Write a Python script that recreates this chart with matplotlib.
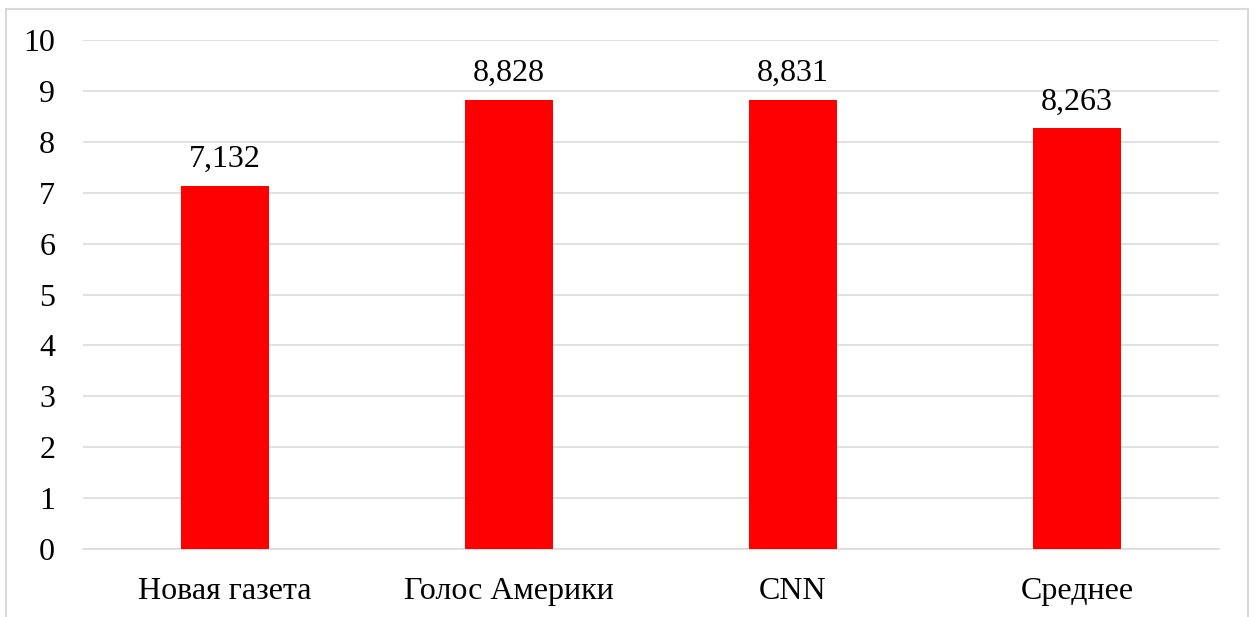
import matplotlib
matplotlib.use("Agg")
import matplotlib.pyplot as plt
from matplotlib.patches import Rectangle

categories = ["Новая газета", "Голос Америки", "CNN", "Среднее"]
values = [7.132, 8.828, 8.831, 8.263]
value_labels = ["7,132", "8,828", "8,831", "8,263"]
yticks = [0, 1, 2, 3, 4, 5, 6, 7, 8, 9, 10]

plt.rcParams['font.family'] = ['Liberation Serif', 'DejaVu Serif']

W, H = 1256, 617
FS = 23
fig = plt.figure(figsize=(W / 100, H / 100), dpi=100)
fig.patch.set_facecolor('white')

# outer chart border (bottom edge lies outside the image)
fig.add_artist(Rectangle((6 / W, -0.05), (1248 - 6) / W, 1.05 - 9 / H,
                         transform=fig.transFigure, fill=False,
                         edgecolor='#d9d9d9', linewidth=1.5))

ax = fig.add_axes([83 / W, (H - 549) / H, (1219 - 83) / W, (549 - 40) / H])
x = range(len(categories))
ax.bar(x, values, width=0.31, color='#ff0000', zorder=3)
for xi, v, lab in zip(x, values, value_labels):
    ax.annotate(lab, (xi, v), xytext=(0, 8.5), textcoords='offset points',
                ha='center', va='bottom', fontsize=FS, color='black')

ax.set_xlim(-0.5, len(categories) - 0.5)
ax.set_ylim(0, 10)
ax.set_yticks(yticks)
ax.set_yticklabels([str(t) for t in yticks])
ax.set_xticks(list(x))
ax.set_xticklabels(categories)
ax.tick_params(axis='y', length=0, pad=20, labelsize=FS)
ax.tick_params(axis='x', length=0, pad=20.5, labelsize=FS)
ax.grid(axis='y', color='#d9d9d9', linewidth=1.1, zorder=0)
ax.set_axisbelow(True)
for s in ['top', 'right', 'left']:
    ax.spines[s].set_visible(False)
ax.spines['bottom'].set_color('#d9d9d9')
ax.spines['bottom'].set_linewidth(1.1)

fig.savefig('out.png', dpi=100)
